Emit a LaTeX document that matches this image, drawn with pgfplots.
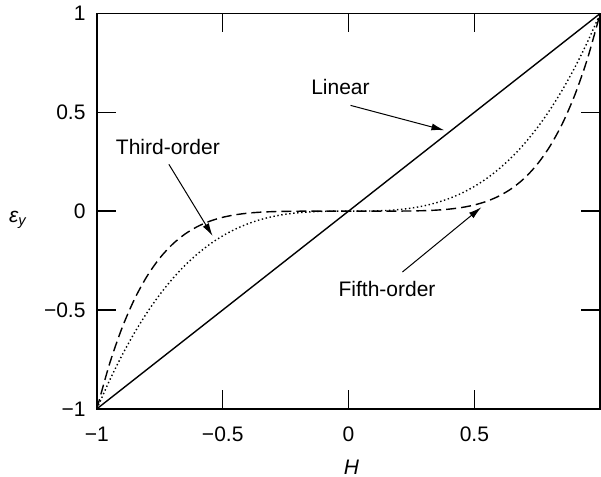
\documentclass[border=0pt]{standalone}
\usepackage{fontspec}
\setmainfont{Liberation Sans}
\usepackage{pgfplots}
\pgfplotsset{compat=1.18}
\usetikzlibrary{arrows.meta}

\pgfplotstableread{
x y
-1.00 -1
-0.95 -0.857375
-0.90 -0.729
-0.85 -0.614125
-0.80 -0.512
-0.75 -0.421875
-0.70 -0.343
-0.65 -0.274625
-0.60 -0.216
-0.55 -0.166375
-0.50 -0.125
-0.45 -0.091125
-0.40 -0.064
-0.35 -0.042875
-0.30 -0.027
-0.25 -0.015625
-0.20 -0.008
-0.15 -0.003375
-0.10 -0.001
-0.05 -0.000125
0.00 0
0.05 0.000125
0.10 0.001
0.15 0.003375
0.20 0.008
0.25 0.015625
0.30 0.027
0.35 0.042875
0.40 0.064
0.45 0.091125
0.50 0.125
0.55 0.166375
0.60 0.216
0.65 0.274625
0.70 0.343
0.75 0.421875
0.80 0.512
0.85 0.614125
0.90 0.729
0.95 0.857375
1.00 1
}\thirdorder

\pgfplotstableread{
x y
-1.00 -1
-0.95 -0.773781
-0.90 -0.59049
-0.85 -0.443705
-0.80 -0.32768
-0.75 -0.237305
-0.70 -0.16807
-0.65 -0.116029
-0.60 -0.07776
-0.55 -0.050328
-0.50 -0.03125
-0.45 -0.018453
-0.40 -0.01024
-0.35 -0.005252
-0.30 -0.00243
-0.25 -0.000977
-0.20 -0.00032
-0.15 -0.0000759
-0.10 -0.00001
-0.05 -0.0000003
0.00 0
0.05 0.0000003
0.10 0.00001
0.15 0.0000759
0.20 0.00032
0.25 0.000977
0.30 0.00243
0.35 0.005252
0.40 0.01024
0.45 0.018453
0.50 0.03125
0.55 0.050328
0.60 0.07776
0.65 0.116029
0.70 0.16807
0.75 0.237305
0.80 0.32768
0.85 0.443705
0.90 0.59049
0.95 0.773781
1.00 1
}\fifthorder

\begin{document}
\fontsize{10.5}{12.6}\selectfont
\begin{tikzpicture}[font=\fontsize{10.5}{12.6}\selectfont]
\begin{axis}[
  scale only axis, width=251.75pt, height=197.75pt,
  xmin=-1, xmax=1, ymin=-1, ymax=1,
  axis line style={line width=0.8pt},
  tick align=inside, major tick length=9.5pt,
  tick style={black, line width=0.7pt},
  xtick={-1,-0.5,0,0.5}, xticklabels={−1,−0.5,0,0.5},
  ytick={-1,-0.5,0,0.5,1}, yticklabels={−1,−0.5,0,0.5,1},
  xticklabel style={anchor=north, inner sep=0pt, yshift=-9pt},
  yticklabel style={anchor=east, inner sep=0pt, xshift=-5.5pt},
  xlabel={\itshape H},
  xlabel style={at={(axis description cs:0.506,-0.1467)}, anchor=center, inner sep=0pt},
  clip=false,
]
\addplot[black, line width=0.7pt] coordinates {(-1,-1) (1,1)};
\addplot[black, line width=0.7pt, dash pattern=on 0.7pt off 1.3pt, smooth] table {\thirdorder};
\addplot[black, line width=0.7pt, dash pattern=on 5pt off 2.5pt, smooth] table {\fifthorder};

\node at (axis cs:-1.3135,-0.045) {\itshape ε\textsubscript{y}};

\node at (axis cs:-0.032,0.629) {Linear};
\draw[-{Latex[length=6.5pt,width=3.5pt]}, line width=0.5pt] (axis cs:0.008,0.535) -- (axis cs:0.381,0.409);
\node at (axis cs:-0.718,0.326) {Third-order};
\draw[-{Latex[length=6.5pt,width=3.5pt]}, line width=0.5pt] (axis cs:-0.714,0.237) -- (axis cs:-0.540,-0.126);
\node at (axis cs:0.153,-0.396) {Fifth-order};
\draw[-{Latex[length=6.5pt,width=3.5pt]}, line width=0.5pt] (axis cs:0.214,-0.308) -- (axis cs:0.528,0.02);

\coordinate (bbsw) at (rel axis cs:-0.1925,-0.1719);
\coordinate (bbne) at (rel axis cs:1.0016,1.0341);
\end{axis}
\pgfresetboundingbox
\path[use as bounding box] (bbsw) rectangle (bbne);
\end{tikzpicture}
\end{document}
